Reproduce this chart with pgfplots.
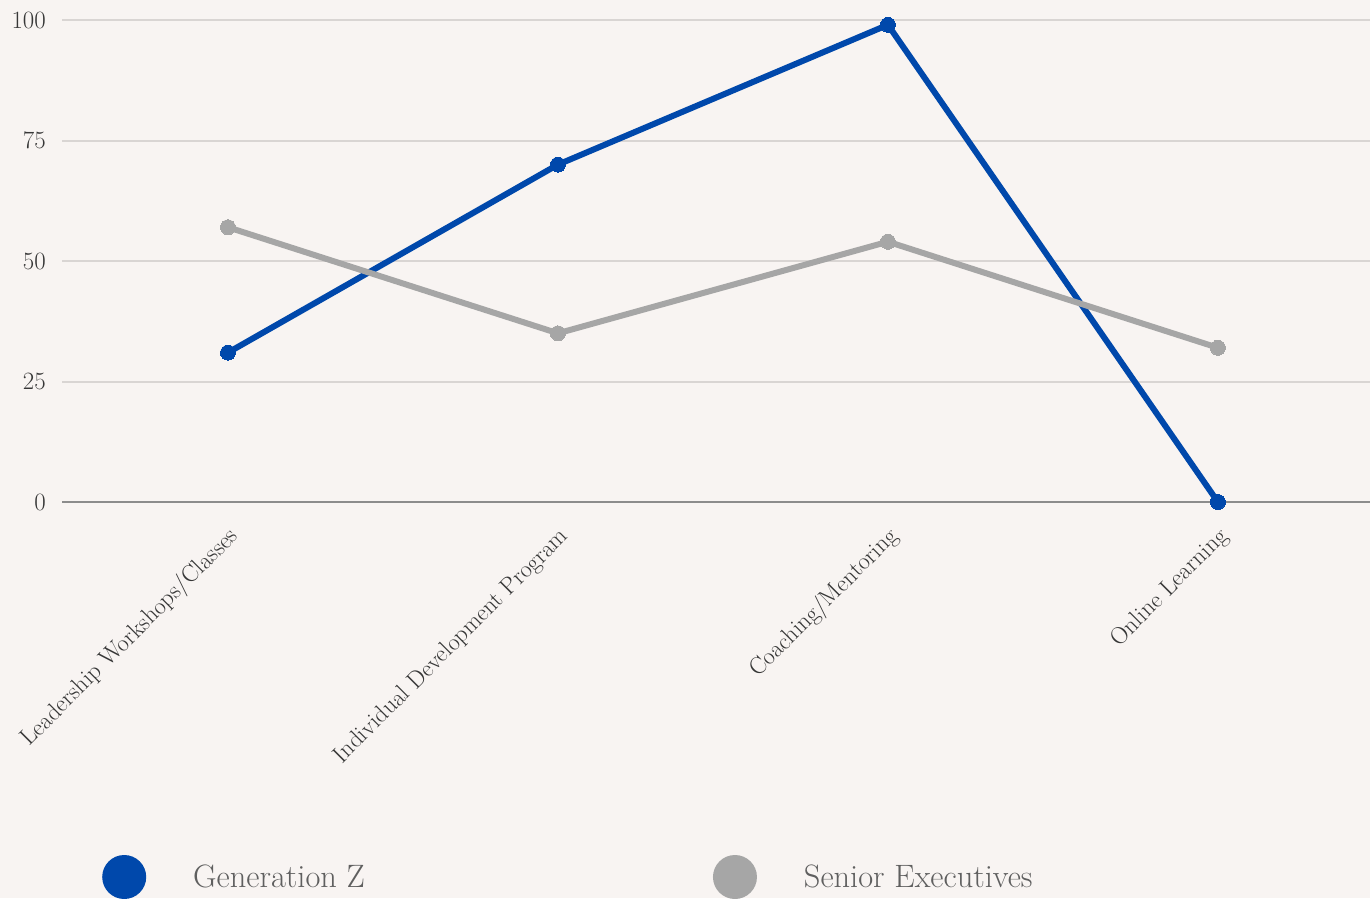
\documentclass[border=0pt]{standalone}
\usepackage{pgfplots}
\pgfplotsset{compat=1.18}
\definecolor{bg}{RGB}{248,244,242}
\definecolor{genz}{RGB}{0,72,171}
\definecolor{senior}{RGB}{166,166,166}
\definecolor{gridc}{RGB}{217,213,211}
\definecolor{zeroc}{RGB}{140,140,140}
\definecolor{labelc}{RGB}{55,55,55}
\definecolor{legc}{RGB}{95,95,95}
\begin{document}
\begin{tikzpicture}[x=1pt,y=1pt]
\path[use as bounding box, fill=bg] (0,0) rectangle (1370,898);
\begin{axis}[
  at={(62pt,396pt)}, anchor=south west,
  scale only axis, width=1308pt, height=482pt,
  xmin=-0.503, xmax=3.461, ymin=0, ymax=100,
  clip=false,
  axis line style={draw=none},
  major tick length=0pt,
  xtick={0,1,2,3},
  xticklabels={Leadership Workshops/Classes, Individual Development Program, Coaching/Mentoring, Online Learning},
  ytick={25,50,75,100},
  extra y ticks={0},
  extra y tick style={grid style={draw=zeroc, line width=2pt}},
  ymajorgrids,
  grid style={draw=gridc, line width=2pt},
  yticklabel style={font=\fontsize{23}{27}\selectfont, text=labelc, anchor=east, inner sep=0pt, xshift=-16pt},
  xticklabel style={font=\fontsize{24}{28}\selectfont, text=labelc, inner sep=0pt, xshift=7pt, yshift=-31pt, rotate=45, anchor=east},
  legend columns=2,
  legend style={at={(0.0306,-0.778)}, anchor=west, draw=none, fill=none, inner sep=0pt,
    font=\fontsize{32.4}{38}\selectfont, text=legc, nodes={inner sep=0pt},
    /tikz/every even column/.append style={column sep=348pt}},
  legend image code/.code={\path[draw=none, fill=none] (0pt,0pt) -- (91pt,0pt); \fill[#1, draw=none] (22pt,0pt) circle (22pt);},
]
\addplot[color=genz, line width=6pt, line join=round, mark=*, mark size=7.5pt, mark options={line width=0pt}]
  coordinates {(0,31) (1,70) (2,99) (3,0)};
\addlegendentry{Generation Z}
\addplot[color=senior, line width=6pt, line join=round, mark=*, mark size=7.5pt, mark options={line width=0pt}]
  coordinates {(0,57) (1,35) (2,54) (3,32)};
\addlegendentry{Senior Executives}
\end{axis}
\end{tikzpicture}
\end{document}
